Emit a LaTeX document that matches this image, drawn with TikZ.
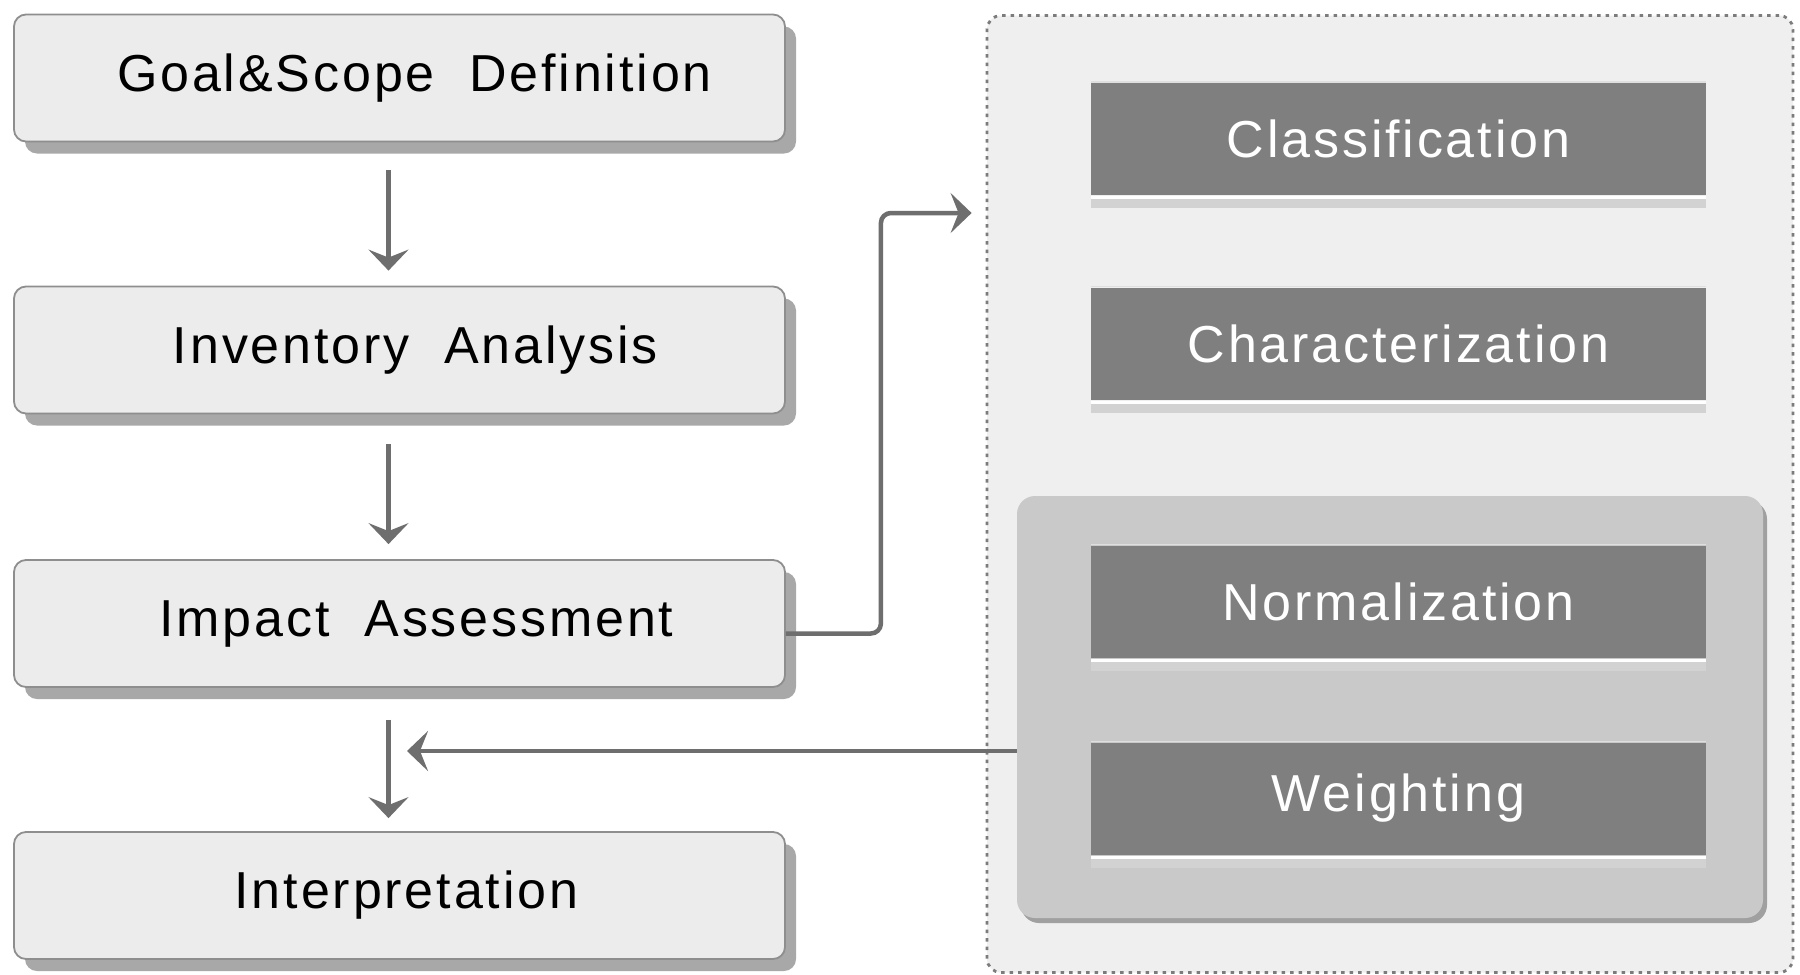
\documentclass[tikz,border=0pt]{standalone}
\usepackage{fontspec}
\setmainfont{Liberation Sans}
\newfontfamily\spfont[LetterSpace=5.5]{Liberation Sans}
\usetikzlibrary{arrows.meta,shadows,calc}
\definecolor{lfill}{HTML}{ECECEC}
\definecolor{lborder}{HTML}{8E8E8E}
\definecolor{lshadow}{HTML}{A8A8A8}
\definecolor{dfill}{HTML}{7F7F7F}
\definecolor{dshadow}{HTML}{D2D2D2}
\definecolor{cfill}{HTML}{EFEFEF}
\definecolor{dotgray}{HTML}{7C7C7C}
\definecolor{gfill}{HTML}{C9C9C9}
\definecolor{gshadow}{HTML}{A0A0A0}
\definecolor{arrgray}{HTML}{6E6E6E}
\begin{document}
\begin{tikzpicture}[x=1pt,y=-1pt,
  lbox/.style={draw=lborder, line width=1.8pt, fill=lfill, rounded corners=12pt,
    minimum width=771pt, minimum height=127pt, inner sep=0pt,
    font=\spfont\fontsize{52}{60}\selectfont, text=black,
    drop shadow={shadow xshift=11pt, shadow yshift=-12pt, fill=lshadow, opacity=1}},
  dbox/.style={fill=dfill, draw=none, minimum width=615pt, minimum height=112pt,
    inner sep=0pt, font=\spfont\fontsize{52}{60}\selectfont, text=white},
  container/.style={draw=dotgray, line width=2.8pt, dash pattern=on 3.5pt off 5pt,
    fill=cfill, rounded corners=14pt, minimum width=806pt, minimum height=957pt, inner sep=0pt},
  grpbox/.style={fill=gfill, draw=none, rounded corners=18pt, minimum width=746pt,
    minimum height=422pt, inner sep=0pt,
    drop shadow={shadow xshift=4pt, shadow yshift=-5pt, fill=gshadow, opacity=1}},
  arr/.style={draw=arrgray, line width=4.5pt,
    -{Stealth[length=21pt,width=40pt,inset=8pt]}},
]
\useasboundingbox[fill=white] (0,0) rectangle (1800,975);

% left column
\node[lbox] (goal) at (399.5,78) {\hspace*{30pt}Goal\&Scope\ \ Definition};
\node[lbox] (inv)  at (399.5,350) {\hspace*{32pt}Inventory\ \ Analysis};
\node[lbox] (imp)  at (399.5,623.5) {\hspace*{34pt}Impact\ \ Assessment};
\node[lbox] (intp) at (399.5,895.5) {\hspace*{14pt}Interpretation};

% right container
\node[container] (cont) at (1390,494) {};
\node[grpbox] (grp) at (1390,707) {};

\node[dbox] (cls) at (1398.5,139) {Classification};
\node[dbox] (chr) at (1398.5,343.5) {Characterization};
\node[dbox] (nrm) at (1398.5,601.5) {Normalization};
\node[dbox] (wgt) at (1398.5,798.5) {Weighting};

\foreach \n in {cls,chr,nrm,wgt}{
  \fill[dshadow] ([yshift=-1pt]\n.south west) rectangle ([yshift=-13pt]\n.south east);
  \draw[white, line width=3pt] ([yshift=-2.5pt]\n.south west) -- ([yshift=-2.5pt]\n.south east);
  \draw[white!75!dfill, line width=1.5pt] ([yshift=0.75pt]\n.north west) -- ([yshift=0.75pt]\n.north east);
}

% vertical arrows
\draw[arr] ([xshift=-11pt,yshift=-28pt]goal.south) -- ([xshift=-11pt,yshift=15pt]inv.north);
\draw[arr] ([xshift=-11pt,yshift=-30pt]inv.south) -- ([xshift=-11pt,yshift=15pt]imp.north);
\draw[arr] ([xshift=-11pt,yshift=-32pt]imp.south) -- ([xshift=-11pt,yshift=13pt]intp.north);

% connector to the right container
\coordinate (cin) at ([xshift=-14pt,yshift=281pt]cont.west);
\draw[arr, rounded corners=10pt] ([yshift=-10pt]imp.east) -- ++(95,0) |- (cin);

% feedback arrow
\coordinate (fbend) at (407,751);
\draw[arr] ([yshift=-44pt]grp.west) -- (fbend);
\end{tikzpicture}
\end{document}
